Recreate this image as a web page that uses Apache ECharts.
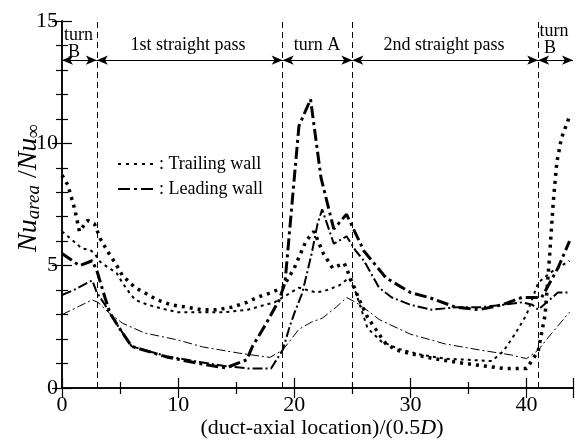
<!DOCTYPE html>
<html><head><meta charset="utf-8">
<script src="https://cdn.jsdelivr.net/npm/echarts@6/dist/echarts.min.js"></script>
<style>html,body{margin:0;padding:0;background:#fff}#c{width:578px;height:444px}</style>
</head><body><div id="c"></div>
<script>
// ---- data ----
const trailingAX = [0, 0.5, 1.1, 1.5, 2.2, 2.8, 3.3, 3.9, 4.6, 5.2, 6.3, 7.1, 8.2, 9.4, 10.8, 12, 13.3, 14.6, 15.9, 16.8, 18, 19, 20, 21, 21.7, 22.5, 23.3, 24.3, 25, 25.6, 26.3, 27.3, 27.9, 28.8, 30.5, 32, 34, 36, 38, 40, 41, 41.6, 42, 42.3, 42.6, 43, 43.7];
const trailingAY = [8.7, 8.3, 7.3, 6.4, 6.85, 6.7, 6.1, 5.6, 5.1, 4.6, 4.1, 3.9, 3.6, 3.4, 3.3, 3.2, 3.2, 3.3, 3.5, 3.7, 3.9, 4.1, 4.9, 6.0, 6.4, 5.5, 4.9, 5.1, 4.3, 3.6, 2.9, 2.2, 1.8, 1.55, 1.35, 1.2, 1.05, 0.92, 0.8, 0.8, 1.5, 3.0, 5.5, 7.6, 9.2, 10.2, 11.1];

const trailingBX = [0, 1, 1.7, 2.4, 2.8, 3.3, 3.9, 4.7, 5.2, 5.8, 6.3, 7.4, 9, 10, 12, 14, 16, 17.5, 18.3, 19, 20.4, 21.9, 22.8, 23.9, 24.7, 25.3, 26.3, 27.5, 29, 31, 33, 35, 37, 38, 39, 40, 41, 42, 43, 43.7];
const trailingBY = [6.4, 6.0, 5.7, 5.65, 5.5, 5.15, 4.95, 4.7, 4.3, 3.9, 3.6, 3.4, 3.2, 3.1, 3.1, 3.1, 3.2, 3.4, 3.5, 3.7, 4.1, 3.9, 4.0, 4.2, 4.5, 3.9, 2.45, 1.9, 1.6, 1.35, 1.2, 1.15, 1.1, 1.5, 2.2, 3.0, 4.3, 4.7, 5.0, 5.2];

const leadingAX = [0, 1.5, 2.6, 3, 3.7, 4.1, 5.0, 6.0, 9, 11.8, 14.1, 15.9, 16.4, 17.6, 18.7, 19.2, 20.4, 21.4, 22.3, 23.4, 24.5, 26, 27.9, 30, 31.6, 33.9, 35.9, 37.9, 39.6, 41.3, 42.7, 43.7];
const leadingAY = [5.5, 5.0, 5.2, 4.8, 3.7, 3.1, 2.4, 1.7, 1.27, 1.0, 0.82, 1.15, 1.7, 2.65, 3.6, 4.3, 10.7, 11.8, 8.6, 6.5, 7.1, 5.6, 4.5, 3.9, 3.7, 3.3, 3.2, 3.4, 3.7, 3.7, 4.9, 6.0];

const leadingBX = [0, 1, 2.6, 3, 3.7, 4.1, 6, 9, 12, 14, 16, 18, 19, 19.6, 20, 20.7, 21.5, 22, 22.4, 23.4, 24.5, 25.3, 26, 27.3, 28.4, 30, 31.8, 34, 36, 38, 39.6, 40.5, 41, 42.7, 43.7];
const leadingBY = [3.8, 4.0, 4.4, 3.9, 3.4, 3.05, 1.7, 1.3, 1.05, 0.9, 0.8, 0.8, 1.55, 2.5, 3.05, 3.9, 5.5, 6.7, 7.3, 5.9, 6.2, 5.6, 5.2, 4.1, 3.7, 3.4, 3.2, 3.3, 3.3, 3.4, 3.5, 3.4, 3.2, 3.9, 3.9];

const leadingCX = [0, 1.3, 2.6, 3.1, 4.1, 5.2, 7.1, 10, 12.1, 15.3, 17.9, 19, 20.4, 21.5, 22.4, 23.6, 24.5, 25.3, 26.5, 27.3, 30, 33, 36, 38.7, 40, 41, 42.1, 43.7];
const leadingCY = [3.0, 3.3, 3.6, 3.5, 3.05, 2.65, 2.25, 1.96, 1.68, 1.42, 1.25, 1.55, 2.4, 2.7, 2.85, 3.3, 3.7, 3.5, 3.1, 2.8, 2.2, 1.8, 1.55, 1.35, 1.2, 1.55, 2.2, 3.1];

const passBoundaries = [3, 19, 25, 41];
const arrowStops = [0, 3, 19, 25, 41, 44];
const arrowLevel = 13.4;
const xTickLabels = ['0', '10', '20', '30', '40'];
const yTickLabels = ['0', '5', '10', '15'];

// ---- chart ----
const FONT = '"Liberation Serif", "Times New Roman", Times, "DejaVu Serif", serif';
const zip = (xs, ys) => xs.map((x, i) => [x, ys[i]]);
const chart = echarts.init(document.getElementById('c'), null, {renderer: 'canvas'});

function lineSeries(name, xs, ys, width, dash) {
  return {
    name, type: 'line', data: zip(xs, ys), symbol: 'none', showSymbol: false,
    xAxisIndex: 0, yAxisIndex: 0, silent: true, animation: false,
    itemStyle: {color: '#000', opacity: 0},
    lineStyle: {color: '#000', width, type: dash, cap: 'butt'}, z: 3
  };
}

const axisCommon = {
  type: 'value', min: 0,
  axisLine: {show: true, lineStyle: {color: '#000', width: 1.5}},
  axisTick: {show: true, inside: true, lineStyle: {color: '#000', width: 1.2}},
  minorTick: {show: true, lineStyle: {color: '#000', width: 1.2}},
  splitLine: {show: false}, minorSplitLine: {show: false}
};

function txt(extra) {
  return Object.assign({fill: '#000', fontFamily: FONT, fontSize: 18}, extra);
}

const option = {
  animation: false,
  backgroundColor: '#fff',
  textStyle: {fontFamily: FONT},
  grid: {left: 62, right: 5, top: 21, bottom: 56},
  xAxis: [
    Object.assign({}, axisCommon, {position: 'bottom', max: 44, interval: 10,
      axisTick: Object.assign({}, axisCommon.axisTick, {length: 10}),
      minorTick: Object.assign({}, axisCommon.minorTick, {splitNumber: 2, length: 6}),
      axisLabel: {show: true, margin: 6, color: '#000', fontFamily: FONT, fontSize: 22,
        formatter: v => xTickLabels.includes(String(v)) ? String(v) : '', showMaxLabel: false}}),
    Object.assign({}, axisCommon, {position: 'top', max: 44, interval: 10,
      axisTick: Object.assign({}, axisCommon.axisTick, {length: 10}),
      minorTick: Object.assign({}, axisCommon.minorTick, {splitNumber: 2, length: 6}),
      axisLabel: {show: false}})
  ],
  yAxis: [
    Object.assign({}, axisCommon, {position: 'left', max: 15, interval: 5,
      axisTick: Object.assign({}, axisCommon.axisTick, {length: 10}),
      minorTick: Object.assign({}, axisCommon.minorTick, {splitNumber: 5, length: 6}),
      axisLabel: {show: true, margin: 4, color: '#000', fontFamily: FONT, fontSize: 22,
        formatter: v => yTickLabels.includes(String(v)) ? String(v) : ''}}),
    Object.assign({}, axisCommon, {position: 'right', max: 15, interval: 5,
      axisTick: Object.assign({}, axisCommon.axisTick, {length: 10}),
      minorTick: Object.assign({}, axisCommon.minorTick, {splitNumber: 5, length: 6}),
      axisLabel: {show: false}})
  ],
  legend: {
    data: ['Trailing wall', 'Leading wall'], orient: 'vertical', left: 112, top: 150,
    itemWidth: 36, itemHeight: 12, itemGap: 7, selectedMode: false,
    itemStyle: {opacity: 0},
    formatter: ': {name}',
    textStyle: {color: '#000', fontFamily: FONT, fontSize: 18}
  },
  series: [
    lineSeries('Trailing wall', trailingAX, trailingAY, 3.5, [3, 5]),
    lineSeries('Trailing wall B', trailingBX, trailingBY, 2, [3, 4]),
    lineSeries('Leading wall', leadingAX, leadingAY, 3, [12, 4, 3, 4]),
    lineSeries('Leading wall B', leadingBX, leadingBY, 2, [10, 3, 2, 3]),
    lineSeries('Leading wall C', leadingCX, leadingCY, 1, [9, 3, 2, 3]),
    {
      name: 'boundaries', type: 'line', data: [], silent: true,
      markLine: {
        silent: true, symbol: ['none', 'none'], label: {show: false}, animation: false,
        lineStyle: {color: '#000', width: 1, type: [6, 4]},
        data: passBoundaries.map(b => [{coord: [b, 0]}, {coord: [b, 15]}])
      }
    },
    {
      name: 'arrows', type: 'line', data: [], silent: true,
      markLine: {
        silent: true, symbol: ['arrow', 'arrow'], symbolSize: [7, 11], label: {show: false}, animation: false,
        lineStyle: {color: '#000', width: 1, type: 'solid'},
        data: arrowStops.slice(0, -1).map((a, i) => [{coord: [a, arrowLevel]}, {coord: [arrowStops[i + 1], arrowLevel]}])
      }
    }
  ],
  graphic: [
    {type: 'text', left: 64, top: 26, style: txt({text: 'turn'})},
    {type: 'text', left: 68, top: 43, style: txt({text: 'B'})},
    {type: 'text', x: 188, y: 45, style: txt({text: '1st straight pass', align: 'center', verticalAlign: 'middle'})},
    {type: 'text', x: 317, y: 45, style: txt({text: 'turn A', align: 'center', verticalAlign: 'middle'})},
    {type: 'text', x: 444, y: 45, style: txt({text: '2nd straight pass', align: 'center', verticalAlign: 'middle'})},
    {type: 'text', x: 554, y: 31, style: txt({text: 'turn', align: 'center', verticalAlign: 'middle'})},
    {type: 'text', x: 550, y: 48, style: txt({text: 'B', align: 'center', verticalAlign: 'middle'})},
    {type: 'text', x: 322, y: 428, style: txt({
      text: '(duct-axial location)/(0.5{i|D})', align: 'center', verticalAlign: 'middle', fontSize: 22,
      rich: {i: {fontStyle: 'italic', fontFamily: FONT, fontSize: 22}}
    })},
    {type: 'text', x: 29, y: 188, rotation: Math.PI / 2, style: txt({
      text: '{n|Nu}{s|area}{p| /}{n|Nu}{s|∞}', align: 'center', verticalAlign: 'middle',
      rich: {
        n: {fontFamily: FONT, fontSize: 28, fontStyle: 'italic', lineHeight: 28, verticalAlign: 'bottom'},
        p: {fontFamily: FONT, fontSize: 28, lineHeight: 28, verticalAlign: 'bottom'},
        s: {fontFamily: FONT, fontSize: 19, fontStyle: 'italic', lineHeight: 13, verticalAlign: 'bottom'}
      }
    })}
  ]
};
chart.setOption(option);
</script></body></html>
